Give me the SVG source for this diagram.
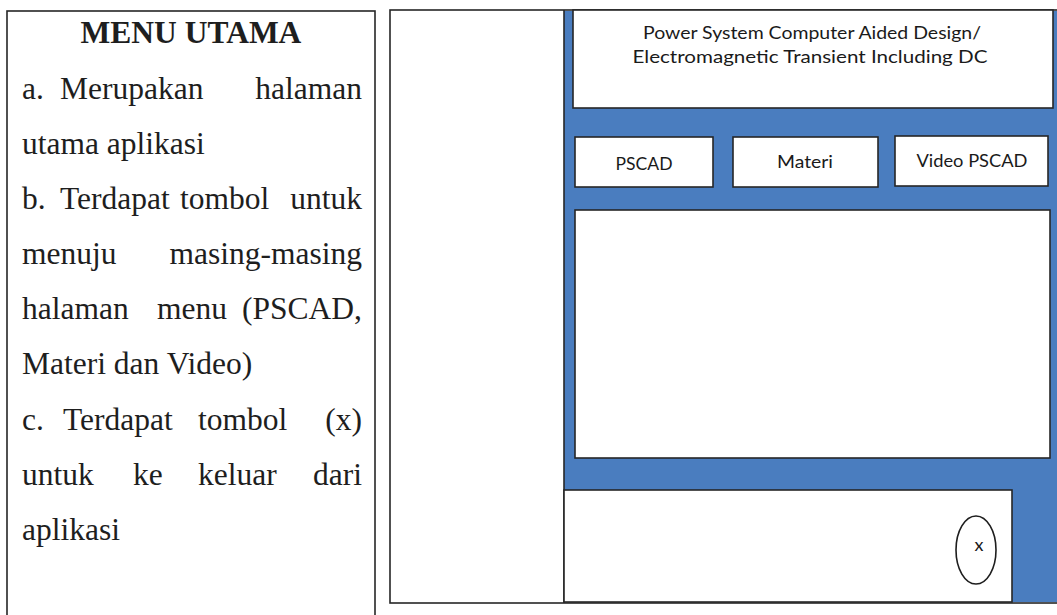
<svg xmlns="http://www.w3.org/2000/svg" width="1057" height="615" viewBox="0 0 1057 615">
  <style>
    .frame { fill: #ffffff; stroke: #262626; stroke-width: 1.6; }
    .box { fill: #ffffff; stroke: #262626; stroke-width: 1.6; }
    .blue { fill: #4a7dbf; stroke: none; }
    .body { font-family: "Liberation Serif", "Times New Roman", serif; font-size: 31.5px; fill: #1e1e1e; }
    .head { font-family: "Liberation Serif", "Times New Roman", serif; font-size: 31.5px; font-weight: bold; fill: #1e1e1e; }
    .ui { font-family: Lato, "Liberation Sans", sans-serif; font-size: 17px; fill: #1a1a1a; }
    .end { text-anchor: end; }
    .mid { text-anchor: middle; }
  </style>
  <rect width="1057" height="615" fill="#ffffff"/>

  <g id="description">
    <rect class="frame" x="7" y="11" width="368" height="620"/>
    <text class="head mid" x="191" y="43">MENU UTAMA</text>
    <text class="body" x="22" y="99">a.</text>
    <text class="body" x="60" y="99">Merupakan</text>
    <text class="body end" x="362" y="99">halaman</text>
    <text class="body" x="22" y="154">utama aplikasi</text>
    <text class="body" x="22" y="209">b.</text>
    <text class="body" x="60" y="209">Terdapat</text>
    <text class="body" x="180" y="209">tombol</text>
    <text class="body end" x="362" y="209">untuk</text>
    <text class="body" x="22" y="264">menuju</text>
    <text class="body end" x="362" y="264">masing-masing</text>
    <text class="body" x="22" y="319">halaman</text>
    <text class="body" x="157" y="319">menu</text>
    <text class="body end" x="362" y="319">(PSCAD,</text>
    <text class="body" x="22" y="374">Materi dan Video)</text>
    <text class="body" x="22" y="430">c.</text>
    <text class="body" x="63" y="430">Terdapat</text>
    <text class="body" x="198" y="430">tombol</text>
    <text class="body end" x="362" y="430">(x)</text>
    <text class="body" x="22" y="485">untuk</text>
    <text class="body" x="133" y="485">ke</text>
    <text class="body" x="198" y="485">keluar</text>
    <text class="body end" x="362" y="485">dari</text>
    <text class="body" x="22" y="540">aplikasi</text>
  </g>

  <g id="screen">
    <rect class="frame" x="390" y="10" width="700" height="593"/>
    <rect class="blue" x="564" y="11" width="493" height="591"/>
    <line x1="564" y1="10" x2="564" y2="603" stroke="#262626" stroke-width="1.6"/>
  </g>

  <g id="title-bar">
    <rect class="box" x="573" y="10" width="480" height="98"/>
    <text class="ui mid" x="812" y="39" textLength="338" lengthAdjust="spacingAndGlyphs">Power System Computer Aided Design/</text>
    <text class="ui mid" x="810" y="63" textLength="355" lengthAdjust="spacingAndGlyphs">Electromagnetic Transient Including DC</text>
  </g>

  <g id="btn-pscad">
    <rect class="box" x="575" y="137" width="138" height="50"/>
    <text class="ui mid" x="644" y="170" textLength="57" lengthAdjust="spacingAndGlyphs">PSCAD</text>
  </g>

  <g id="btn-materi">
    <rect class="box" x="733" y="137" width="145" height="50"/>
    <text class="ui mid" x="805" y="168" textLength="56" lengthAdjust="spacingAndGlyphs">Materi</text>
  </g>

  <g id="btn-video">
    <rect class="box" x="895" y="136" width="153" height="50"/>
    <text class="ui mid" x="972" y="167" textLength="111" lengthAdjust="spacingAndGlyphs">Video PSCAD</text>
  </g>

  <g id="content-area">
    <rect class="box" x="575" y="210" width="475" height="248"/>
  </g>

  <g id="footer">
    <rect class="box" x="564" y="490" width="448" height="112"/>
    <ellipse cx="976" cy="550" rx="20" ry="34" fill="#ffffff" stroke="#1e1e1e" stroke-width="1.6"/>
    <text class="ui mid" x="979" y="551" style="font-size:18px">x</text>
  </g>
</svg>
